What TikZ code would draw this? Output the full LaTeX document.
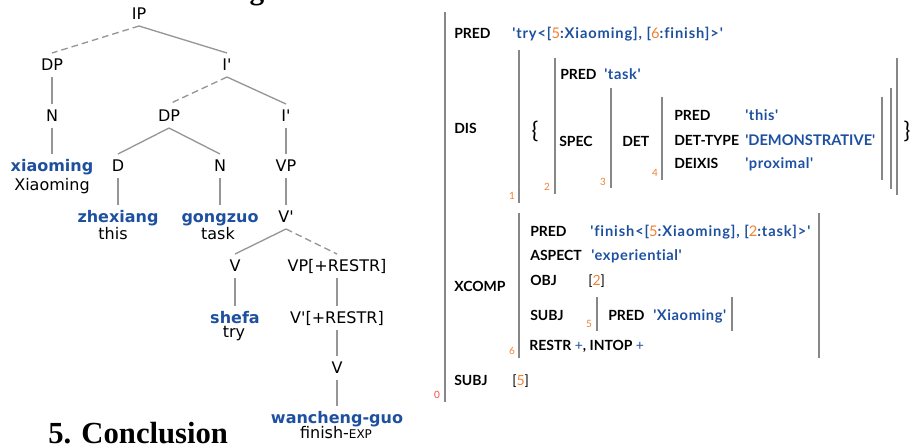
\documentclass[tikz,border=0pt]{standalone}
\usepackage{fontspec}
\setmainfont{DejaVu Sans}[Ligatures=TeXOff]
\newfontfamily\lfg{Lato}[Ligatures={TeXOff,NoCommon}]
\newfontfamily\tms{Liberation Serif}
\definecolor{tblue}{RGB}{30,80,160}
\definecolor{forange}{RGB}{240,130,50}
\definecolor{fred}{RGB}{240,70,70}
\definecolor{lgray}{RGB}{150,150,150}
\definecolor{bgray}{RGB}{135,135,135}
\newcommand{\onum}[1]{{\mdseries\color{forange}#1}}
\begin{document}
\begin{tikzpicture}[x=0.75pt,y=-0.75pt,
  tn/.style={font=\fontsize{12}{12}\selectfont, inner xsep=1pt, inner ysep=4.5pt, text height=8.6pt, text depth=0pt},
  lex/.style={tn, font=\fontsize{12}{12}\selectfont\bfseries, text=tblue},
  gloss/.style={font=\fontsize{12}{12}\selectfont, inner sep=0pt, anchor=base},
  tl/.style={draw=lgray, line width=1pt},
  td/.style={tl, dash pattern=on 5pt off 3pt},
  lab/.style={font=\lfg\bfseries\fontsize{10.5}{10.5}\selectfont, anchor=base west, inner sep=0pt},
  val/.style={lab, font=\lfg\bfseries\fontsize{11}{11}\selectfont, text=tblue},
  vall/.style={val, font=\lfg\bfseries\fontsize{11}{11}\selectfont\addfontfeature{LetterSpace=4}},
  vlong/.style={val, font=\lfg\bfseries\fontsize{11}{11}\selectfont\addfontfeature{LetterSpace=6}},
  num/.style={font=\lfg\fontsize{7.5}{7.5}\selectfont, text=forange, inner sep=0pt},
  brc/.style={font=\lfg\fontsize{17}{17}\selectfont, inner sep=0pt},
  fbar/.style={draw=bgray, line width=1.5pt}]
\useasboundingbox (0,0) rectangle (917,444);
% cut-off heading fragment
\node[font=\tms\bfseries\fontsize{22}{22}\selectfont, anchor=base, inner sep=0pt] (hd) at (257,-1) {g};
% ---------------- tree ----------------
\node[tn] (IP) at (139,14) {IP};
\node[tn] (DPa) at (52,65) {DP};
\node[tn] (Ia) at (227,65) {I'};
\node[tn] (Na) at (52,116) {N};
\node[tn] (DPb) at (169,116) {DP};
\node[tn] (Ib) at (286,116) {I'};
\node[lex] (xm) at (52,166) {xiaoming};
\node[gloss] (gxm) at (52,190) {Xiaoming};
\node[tn] (D) at (118,166) {D};
\node[tn] (Nb) at (220,166) {N};
\node[tn] (VP) at (286,166) {VP};
\node[lex] (zx) at (118,217) {zhexiang};
\node[gloss] (gzx) at (113,239) {this};
\node[lex] (gz) at (220,217) {gongzuo};
\node[gloss] (ggz) at (218,239) {task};
\node[tn] (Vb) at (286,217) {V'};
\node[tn] (Va) at (235,266) {V};
\node[tn] (VPr) at (337,266) {VP[+RESTR]};
\node[lex] (sf) at (235,318) {shefa};
\node[gloss] (gsf) at (234,337.5) {try};
\node[tn] (Vbr) at (337,318) {V'[+RESTR]};
\node[tn] (Vc) at (337,368) {V};
\node[lex] (wg) at (337,418) {wancheng-guo};
\node[gloss] (gwg) at (336,438) {finish-{\fontsize{9}{9}\selectfont EXP}};
\draw[td] (IP.south) -- (DPa.north);
\draw[tl] (IP.south) -- (Ia.north);
\draw[tl] (DPa.south) -- (Na.north);
\draw[tl] (Na.south) -- (xm.north);
\draw[td] (Ia.south) -- (DPb.north);
\draw[tl] (Ia.south) -- (Ib.north);
\draw[tl] (DPb.south) -- (D.north);
\draw[tl] (DPb.south) -- (Nb.north);
\draw[tl] (Ib.south) -- (VP.north);
\draw[tl] (D.south) -- (zx.north);
\draw[tl] (Nb.south) -- (gz.north);
\draw[tl] (VP.south) -- (Vb.north);
\draw[tl] (Vb.south) -- (Va.north);
\draw[td] (Vb.south) -- (VPr.north);
\draw[tl] (Va.south) -- (sf.north);
\draw[tl] (VPr.south) -- (Vbr.north);
\draw[tl] (Vbr.south) -- (Vc.north);
\draw[tl] (Vc.south) -- (wg.north);
% heading
\node[font=\tms\bfseries\fontsize{23}{23}\selectfont, anchor=base west, inner sep=0pt] (concl) at (48,443) {5. Conclusion};
% ---------------- f-structure ----------------
\draw[fbar] (445,12) -- (445,402);
\draw[fbar] (519,50) -- (519,203);
\draw[fbar] (555,58) -- (555,194);
\draw[fbar] (611,88) -- (611,188);
\draw[fbar] (662,97) -- (662,180);
\draw[fbar] (882,97) -- (882,180);
\draw[fbar] (891,88) -- (891,189);
\draw[fbar] (897,58) -- (897,195);
\draw[fbar] (519,213) -- (519,358);
\draw[fbar] (819,213) -- (819,358);
\draw[fbar] (597,297) -- (597,331);
\draw[fbar] (732,297) -- (732,331);
\node[lab] (p0) at (454,38.5) {PRED};
\node[vlong] (v0) at (512,38.5) {'try<[\onum{5}:Xiaoming], [\onum{6}:finish]>'};
\node[lab] (dis) at (454,133.5) {DIS};
\node[brc] (lb) at (535,131) {\{};
\node[brc] (rb) at (907,131) {\}};
\node[lab] (p2) at (560,79.5) {PRED};
\node[vall] (v2) at (604,79.5) {'task'};
\node[lab] (spec) at (559,146.5) {SPEC};
\node[lab] (det) at (622,146.5) {DET};
\node[lab] (p4) at (674,120.5) {PRED};
\node[vall] (v4) at (745,120.5) {'this'};
\node[lab] (dt) at (674,145.5) {DET-TYPE};
\node[val] (vdt) at (745,145.5) {'DEMONSTRATIVE'};
\node[lab] (dx) at (674,168.5) {DEIXIS};
\node[vall] (vdx) at (745,168.5) {'proximal'};
\node[num] (n1) at (512,196) {1};
\node[num] (n2) at (547,187) {2};
\node[num] (n3) at (603,182) {3};
\node[num] (n4) at (655,173) {4};
\node[lab] (xc) at (454,291.5) {XCOMP};
\node[lab] (p6) at (530,236.5) {PRED};
\node[vlong] (v6) at (590,236.5) {'finish<[\onum{5}:Xiaoming], [\onum{2}:task]>'};
\node[lab] (asp) at (530,260.5) {ASPECT};
\node[vall] (vasp) at (591,260.5) {'experiential'};
\node[lab] (obj) at (530,285.5) {OBJ};
\node[lab] (vobj) at (588,285.5) {\mdseries [\onum{2}]};
\node[lab] (sb6) at (530,320.5) {SUBJ};
\node[num] (n5) at (589,324) {5};
\node[lab] (p5) at (608,320.5) {PRED};
\node[vall] (v5) at (653,320.5) {'Xiaoming'};
\node[lab] (rs) at (529,350.5) {RESTR \textcolor{tblue}{\mdseries +}, INTOP \textcolor{tblue}{\mdseries +}};
\node[num] (n6) at (512,351) {6};
\node[lab] (sb0) at (454,385.5) {SUBJ};
\node[lab] (vsb0) at (512,385.5) {\mdseries [\onum{5}]};
\node[num, text=fred] (n0) at (437,395) {0};
\end{tikzpicture}
\end{document}
